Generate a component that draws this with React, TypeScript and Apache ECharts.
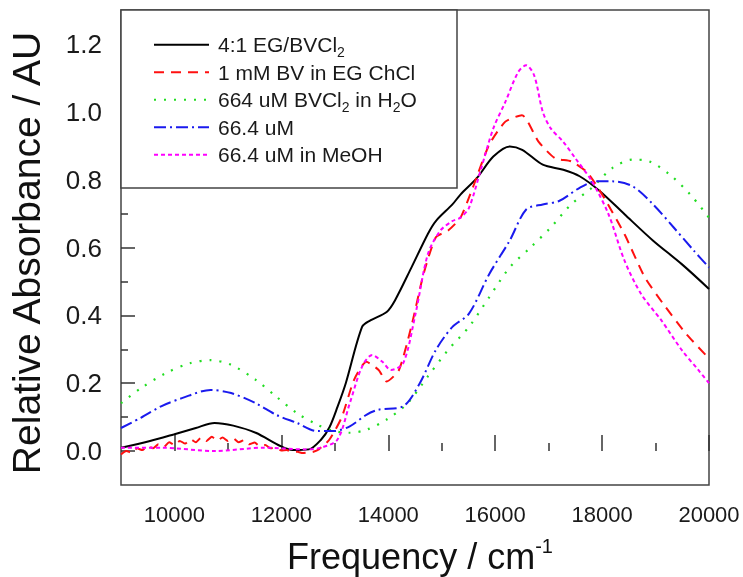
import React, { useEffect, useRef } from "react";
import * as echarts from "echarts";

const xMajorTicks = [10000, 12000, 14000, 16000, 18000, 20000];
const xMinorTicks = [11000, 13000, 15000, 17000, 19000];
const yMajorTicks = [0, 0.2, 0.4, 0.6, 0.8, 1.0, 1.2];
const yMinorTicks = [0.1, 0.3, 0.5, 0.7, 0.9, 1.1];

const seriesNames = [
  "4:1 EG/BVCl2",
  "1 mM BV in EG ChCl",
  "664 uM BVCl2 in H2O",
  "66.4 uM",
  "66.4 uM in MeOH",
];
const legendLabels = [
  "4:1 EG/BVCl{s|2}",
  "1 mM BV in EG ChCl",
  "664 uM BVCl{s|2} in H{s|2}O",
  "66.4 uM",
  "66.4 uM in MeOH",
];

const blackFreq = [9000, 9525, 9985, 10400, 10750, 11100, 11520, 11980, 12210, 12515, 12745, 12900, 13050, 13205, 13510, 13665, 13970, 14125, 14430, 14740, 14890, 15200, 15350, 15660, 15965, 16275, 16505, 16890, 17275, 17580, 17960, 18420, 18955, 19490, 20000];
const blackAbs = [0.01, 0.029, 0.049, 0.068, 0.083, 0.075, 0.054, 0.015, 0.003, 0.005, 0.034, 0.07, 0.13, 0.2, 0.366, 0.385, 0.41, 0.444, 0.54, 0.64, 0.678, 0.727, 0.756, 0.805, 0.868, 0.898, 0.888, 0.844, 0.829, 0.81, 0.766, 0.698, 0.62, 0.551, 0.478];

const redFreq = [9000, 9100, 9200, 9300, 9400, 9500, 9600, 9700, 9800, 9900, 10000, 10100, 10200, 10300, 10400, 10500, 10600, 10700, 10800, 10900, 11000, 11100, 11200, 11300, 11400, 11500, 11600, 11700, 11800, 11900, 12000, 12100, 12200, 12300, 12400, 12500, 12600, 12700, 12900, 13130, 13360, 13590, 13820, 13970, 14200, 14430, 14660, 14890, 15120, 15350, 15580, 15885, 16190, 16500, 16810, 17120, 17425, 17730, 18040, 18420, 18800, 19190, 19570, 20000];
const redAbs = [-0.01, 0.0, -0.005, 0.008, 0.003, 0.015, 0.008, 0.02, 0.012, 0.026, 0.018, 0.03, 0.022, 0.035, 0.026, 0.04, 0.03, 0.042, 0.031, 0.04, 0.03, 0.038, 0.026, 0.032, 0.02, 0.025, 0.014, 0.018, 0.008, 0.01, 0.002, 0.003, -0.003, -0.002, -0.006, -0.004, -0.002, 0.005, 0.034, 0.1, 0.21, 0.263, 0.239, 0.205, 0.239, 0.366, 0.522, 0.63, 0.65, 0.688, 0.776, 0.902, 0.971, 0.99, 0.912, 0.863, 0.854, 0.82, 0.746, 0.639, 0.512, 0.424, 0.346, 0.273];

const greenFreq = [9000, 9370, 9830, 10290, 10675, 11060, 11520, 11900, 12290, 12670, 12980, 13280, 13590, 13970, 14360, 14740, 15120, 15510, 15890, 16270, 16660, 17040, 17420, 17810, 18190, 18575, 18880, 19265, 19650, 20000];
const greenAbs = [0.141, 0.185, 0.229, 0.259, 0.268, 0.254, 0.21, 0.161, 0.112, 0.078, 0.059, 0.054, 0.063, 0.093, 0.141, 0.22, 0.298, 0.366, 0.454, 0.541, 0.6, 0.659, 0.727, 0.776, 0.834, 0.859, 0.854, 0.815, 0.756, 0.688];

const blueFreq = [9000, 9370, 9750, 10140, 10675, 11060, 11520, 11900, 12290, 12670, 12980, 13280, 13590, 13820, 14280, 14590, 14890, 15200, 15510, 15890, 16270, 16580, 16890, 17195, 17580, 17885, 18190, 18575, 18955, 19340, 19720, 20000];
const blueAbs = [0.068, 0.098, 0.132, 0.156, 0.18, 0.171, 0.141, 0.107, 0.083, 0.059, 0.059, 0.073, 0.107, 0.122, 0.132, 0.2, 0.298, 0.366, 0.405, 0.522, 0.62, 0.712, 0.727, 0.737, 0.776, 0.795, 0.795, 0.78, 0.727, 0.659, 0.59, 0.541];

const magentaFreq = [9000, 9750, 10750, 11670, 12440, 12745, 13050, 13280, 13510, 13700, 13890, 14050, 14280, 14510, 14740, 14970, 15200, 15350, 15510, 15740, 15965, 16190, 16430, 16580, 16730, 16890, 17040, 17270, 17500, 17810, 18120, 18420, 18730, 19110, 19490, 19800, 20000];
const magentaAbs = [0.01, 0.01, 0.0, 0.01, 0.005, 0.01, 0.034, 0.141, 0.249, 0.283, 0.263, 0.239, 0.259, 0.405, 0.58, 0.649, 0.678, 0.688, 0.717, 0.834, 0.951, 1.029, 1.117, 1.137, 1.107, 1.0, 0.951, 0.912, 0.863, 0.795, 0.698, 0.561, 0.463, 0.385, 0.298, 0.239, 0.2];

const FONT = "'Liberation Sans', Arial, Helvetica, sans-serif";

const pairs = (f: number[], v: number[]) => f.map((x, i) => [x, v[i]]);

export default function App() {
  const ref = useRef<HTMLDivElement>(null);
  useEffect(() => {
    if (!ref.current) return;
    const chart = echarts.init(ref.current, null, { renderer: "svg" });
    const mk = (name: string, data: number[][], color: string, type: any, width: number, smooth: number) => ({
      name,
      type: "line",
      data,
      xAxisIndex: 0,
      yAxisIndex: 0,
      symbol: "none",
      showSymbol: false,
      smooth,
      lineStyle: { color, width, type },
      itemStyle: { color },
      z: 3,
    });
    const legendMap: Record<string, string> = {};
    seriesNames.forEach((n, i) => (legendMap[n] = legendLabels[i]));
    chart.setOption({
      animation: false,
      grid: {
        left: 121,
        right: 34,
        top: 10,
        bottom: 92,
        show: true,
        borderColor: "#444",
        borderWidth: 1.5,
        backgroundColor: "transparent",
      },
      xAxis: [
        {
          type: "value",
          min: 9000,
          max: 20000,
          position: "bottom",
          axisLine: { show: false },
          splitLine: { show: false },
          axisTick: { show: true, inside: true, length: 16, customValues: xMajorTicks, lineStyle: { color: "#333", width: 1.5 } },
          axisLabel: {
            customValues: xMajorTicks,
            fontSize: 22,
            fontFamily: FONT,
            color: "#1a1a1a",
            margin: 18,
            formatter: (v: number) => String(Math.round(v)),
          },
        },
        {
          type: "value",
          min: 9000,
          max: 20000,
          position: "bottom",
          offset: 0,
          axisLine: { show: false },
          splitLine: { show: false },
          axisTick: { show: true, inside: true, length: 8, customValues: xMinorTicks, lineStyle: { color: "#333", width: 1.5 } },
          axisLabel: { show: false },
        },
      ],
      yAxis: [
        {
          type: "value",
          min: -0.1,
          max: 1.3,
          position: "left",
          axisLine: { show: false },
          splitLine: { show: false },
          axisTick: { show: true, inside: true, length: 14, customValues: yMajorTicks, lineStyle: { color: "#333", width: 1.5 } },
          axisLabel: {
            customValues: yMajorTicks,
            fontSize: 26,
            fontFamily: FONT,
            color: "#1a1a1a",
            margin: 19,
            formatter: (v: number) => v.toFixed(1),
          },
        },
        {
          type: "value",
          min: -0.1,
          max: 1.3,
          position: "left",
          offset: 0,
          axisLine: { show: false },
          splitLine: { show: false },
          axisTick: { show: true, inside: true, length: 7, customValues: yMinorTicks, lineStyle: { color: "#333", width: 1.5 } },
          axisLabel: { show: false },
        },
      ],
      legend: {
        orient: "vertical",
        left: 153,
        top: 31,
        padding: 0,
        itemGap: 0,
        itemWidth: 55,
        itemHeight: 14,
        z: 10,
        selectedMode: false,
        data: seriesNames,
        itemStyle: { opacity: 0 },
        formatter: (n: string) => legendMap[n] || n,
        textStyle: {
          fontSize: 21,
          fontFamily: FONT,
          color: "#1a1a1a",
          lineHeight: 27.5,
          padding: [0, 0, 0, 4],
          rich: {
            s: { fontSize: 14, fontFamily: FONT, color: "#1a1a1a", lineHeight: 6, verticalAlign: "bottom" },
          },
        },
      },
      graphic: [
        {
          type: "rect",
          z: 6,
          shape: { x: 121, y: 10, width: 336, height: 178 },
          style: { fill: "#fff", stroke: "#444", lineWidth: 1.5 },
        },
        {
          type: "text",
          z: 6,
          x: 420,
          y: 556,
          style: {
            text: "Frequency / cm{p|-1}",
            font: `36px ${FONT}`,
            fill: "#111",
            align: "center",
            verticalAlign: "middle",
            lineHeight: 40,
            rich: { p: { fontSize: 20, fontFamily: FONT, fill: "#111", lineHeight: 10, verticalAlign: "top" } },
          },
        },
        {
          type: "text",
          z: 6,
          x: 26,
          y: 253,
          rotation: Math.PI / 2,
          style: {
            text: "Relative Absorbance / AU",
            font: `39px ${FONT}`,
            fill: "#111",
            align: "center",
            verticalAlign: "middle",
          },
        },
      ],
      series: [
        mk(seriesNames[0], pairs(blackFreq, blackAbs), "#000000", "solid", 2, 0.3),
        mk(seriesNames[1], pairs(redFreq, redAbs), "#ff1010", [10, 7], 2, 0.2),
        mk(seriesNames[2], pairs(greenFreq, greenAbs), "#22dd22", [2, 8], 2.2, 0.3),
        mk(seriesNames[3], pairs(blueFreq, blueAbs), "#1a1aee", [12, 4, 2, 4], 2, 0.3),
        mk(seriesNames[4], pairs(magentaFreq, magentaAbs), "#ff00ff", [4, 3], 2, 0.3),
      ],
    });
    return () => chart.dispose();
  }, []);
  return <div ref={ref} style={{ position: "fixed", left: 0, top: 0, width: 743, height: 577 }} />;
}
